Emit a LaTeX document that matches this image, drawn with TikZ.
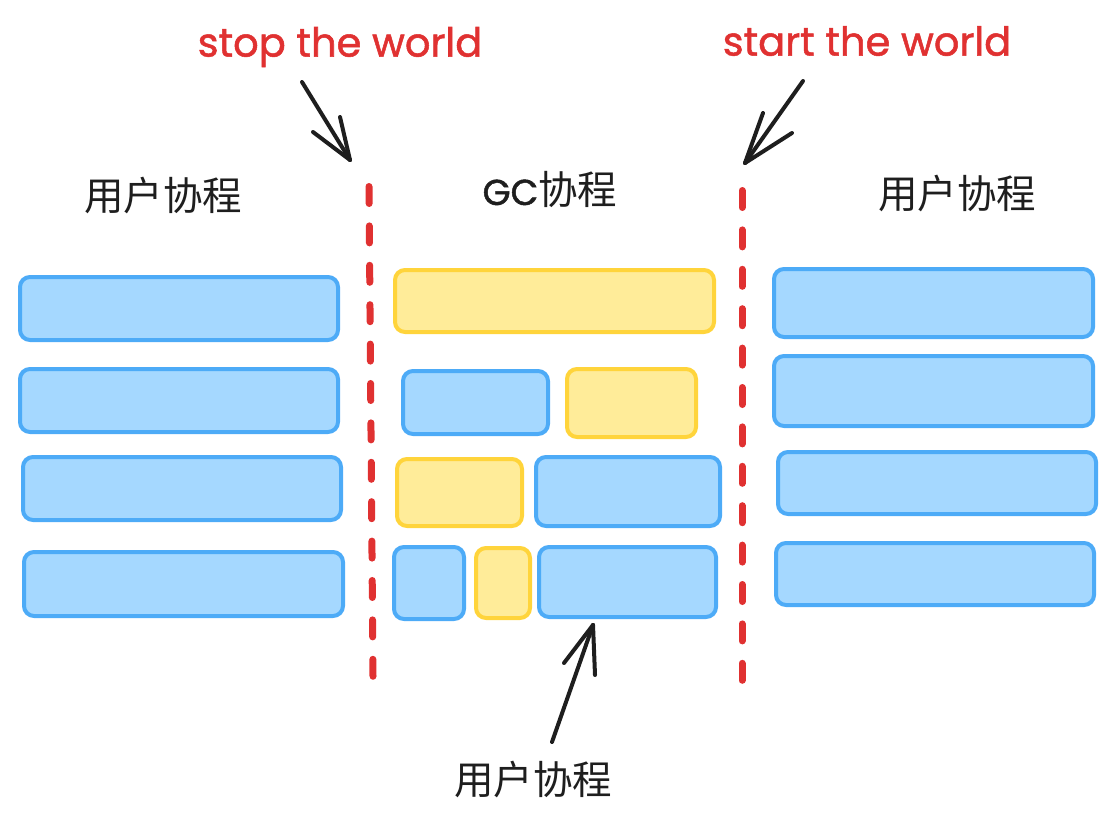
\documentclass[tikz,border=0pt]{standalone}
\usepackage{fontspec}
\newfontfamily\cjk{Noto Sans CJK SC}
\newfontfamily\hand[FakeBold=1.3]{Poppins}
\usetikzlibrary{arrows.meta}
\definecolor{bfill}{HTML}{A5D8FF}
\definecolor{bline}{HTML}{4DABF7}
\definecolor{yfill}{HTML}{FFEC99}
\definecolor{yline}{HTML}{FFD43B}
\definecolor{redc}{HTML}{E03131}
\definecolor{inkc}{HTML}{1E1E1E}
\tikzset{
  blk/.style={rectangle, rounded corners=10pt, line width=4pt, inner sep=0pt},
  bluebox/.style={blk, draw=bline, fill=bfill},
  yelbox/.style={blk, draw=yline, fill=yfill},
  cjklabel/.style={inner sep=0pt, text=inkc, font=\cjk\fontsize{39.5}{46}\selectfont},
  redlabel/.style={inner sep=0pt, text=redc, font=\hand\fontsize{40}{46}\selectfont},
  redline/.style={draw=redc, line width=7pt, line cap=round, dash pattern=on 17pt off 22.4pt},
  pointer/.style={draw=inkc, line width=4pt, line cap=round},
}
\newcommand{\bx}[6]{\node[#1, minimum width=#4pt-#2pt, minimum height=#5pt-#3pt] (#6) at ({(#2+#4)/2},{(#3+#5)/2}) {};}
\begin{document}
\begin{tikzpicture}[x=1pt,y=-1pt]
\useasboundingbox (0,0) rectangle (1115,829);
% left column
\bx{bluebox}{20}{277}{338}{340}{l1}
\bx{bluebox}{20}{369}{338}{432}{l2}
\bx{bluebox}{23}{457}{341}{520}{l3}
\bx{bluebox}{24}{552}{343}{616}{l4}
% middle
\bx{yelbox}{395}{270}{714}{332}{m1}
\bx{bluebox}{403}{371}{548}{434}{m2}
\bx{yelbox}{567}{369}{696}{437}{m3}
\bx{yelbox}{397}{459}{522}{526}{m4}
\bx{bluebox}{536}{457}{720}{526}{m5}
\bx{bluebox}{394}{547}{464}{619}{m6}
\bx{yelbox}{476}{548}{530}{618}{m7}
\bx{bluebox}{539}{547}{716}{617}{m8}
% right column
\bx{bluebox}{774}{269}{1093}{337}{r1}
\bx{bluebox}{774}{356}{1093}{426}{r2}
\bx{bluebox}{778}{452}{1096}{514}{r3}
\bx{bluebox}{776}{543}{1094}{605}{r4}
% dashed red lines
\coordinate (sA) at (369,186.5);
\coordinate (sB) at (373,676.5);
\coordinate (tA) at (742,190.5);
\coordinate (tB) at (742,681.5);
\draw[redline] (sA) -- (sB);
\draw[redline] (tA) -- (tB);
% labels
\node[cjklabel] (lt) at (163,196) {用户协程};
\node[cjklabel] (mt) at (550,190) {{\hand\fontsize{36}{42}\selectfont GC}协程};
\node[cjklabel] (rt) at (957,194) {用户协程};
\node[cjklabel] (bt) at (533,779) {用户协程};
\node[redlabel] (stop) at (340,47) {stop the world};
\node[redlabel] (start) at (867,41) {start the world};
% arrows
\coordinate (stopS) at (302,82);
\coordinate (stopT) at (350,160);
\draw[pointer] (stopS) -- (stopT);
\draw[pointer] (stopT) -- (313,132);
\draw[pointer] (stopT) -- (340,117);
\coordinate (startS) at (803,81);
\coordinate (startT) at (745,163);
\draw[pointer] (startS) -- (startT);
\draw[pointer] (startT) -- (763,113);
\draw[pointer] (startT) -- (792,133);
\coordinate (botS) at (552,742);
\coordinate (botT) at (593,625);
\draw[pointer] (botS) -- (botT);
\draw[pointer] (botT) -- (564,663);
\draw[pointer] (botT) -- (595,675);
\end{tikzpicture}
\end{document}
